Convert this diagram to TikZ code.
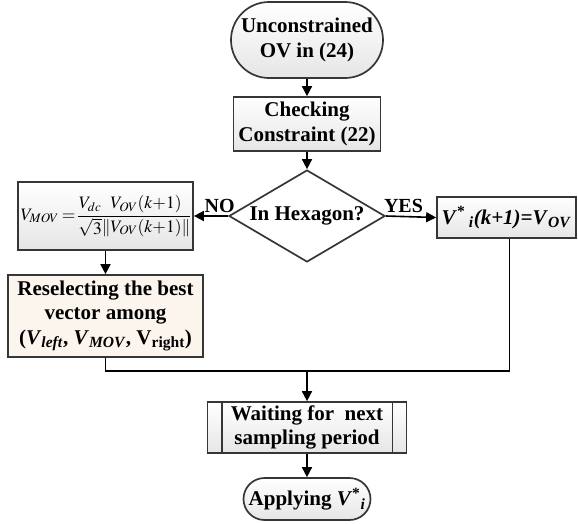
\documentclass[tikz,border=0pt]{standalone}
\usepackage{mathptmx}
\usepackage[no-math]{fontspec}
\setmainfont{Liberation Serif}
\usetikzlibrary{shapes.geometric,shapes.misc,arrows.meta,calc,positioning}

\definecolor{boxline}{HTML}{363636}
\definecolor{boxcream}{HTML}{FCF5EE}
\newcommand{\colx}{307}
\newcommand{\joiny}{371}

\tikzset{
  flowbox/.style={draw=boxline, line width=1.7pt, top color=white, bottom color=black!10,
    inner sep=0pt, align=center, font=\fontsize{21}{24.5}\selectfont\bfseries},
  termbox/.style={flowbox, rounded rectangle},
  decbox/.style={flowbox, diamond, aspect=1.7, top color=white, bottom color=white},
  flowarrow/.style={line width=1.6pt, -{Triangle[length=10pt,width=10pt]}},
  flowline/.style={line width=1.6pt},
  branchlabel/.style={font=\fontsize{20}{22}\selectfont\bfseries, inner sep=3pt}
}

\begin{document}
\begin{tikzpicture}[x=1pt,y=-1pt]
\useasboundingbox (0,0) rectangle (578,523);

%% Start terminal and the constraint check below it
\node[termbox, minimum width=152pt, minimum height=76pt] (start) at (\colx,40)
  {Unconstrained\\OV in (24)};
\node[flowbox, minimum width=147pt, minimum height=54pt] (check) at (\colx,124)
  {Checking\\Constraint (22)};

%% Decision: inside the hexagon or not
\node[decbox, minimum width=156pt, minimum height=92pt] (hex) at (\colx,216) {In Hexagon?};

%% NO branch: scale the vector back onto the boundary
\node[flowbox, minimum width=175pt, minimum height=68pt, font=\fontsize{17.5}{21}\selectfont] (mov) at (105.5,216)
  {$\displaystyle \nulldelimiterspace=0pt V_{MOV}\mkern3mu{=}\mkern3mu\frac{V_{dc}}{\sqrt{3}}\frac{V_{OV}(k{+}1)}{\|V_{OV}(k{+}1)\|}$};
\node[flowbox, top color=boxcream, bottom color=boxcream, minimum width=195pt, minimum height=82pt]
  (resel) at (105.5,316)
  {Reselecting the best\\vector among\\(\textit{V}\textsubscript{\textit{left}},
   \textit{V}\textsubscript{\textit{MOV}}, V\textsubscript{right})};

%% YES branch: keep the unconstrained vector
\node[flowbox, minimum width=139pt, minimum height=41pt] (vstar) at (506.5,217.5)
  {\textit{V}\textsuperscript{*}\,\textsubscript{\textit{i}}\textit{(k+1)=V}\textsubscript{\textit{OV}}};

%% Waiting block with the double side bars
\node[flowbox, minimum width=199pt, minimum height=51pt] (wait) at (\colx,427.5)
  {Waiting for~ next\\sampling period};
\draw[draw=boxline, line width=1.7pt] ($(wait.north west)+(15,0)$) -- ($(wait.south west)+(15,0)$);
\draw[draw=boxline, line width=1.7pt] ($(wait.north east)-(15,0)$) -- ($(wait.south east)-(15,0)$);

%% End terminal
\node[termbox, minimum width=127pt, minimum height=42pt] (apply) at (\colx,499)
  {Applying \textit{V}\textsuperscript{*}\textsubscript{\textit{i}}};

%% Main column arrows
\draw[flowarrow] (start.south) -- (check.north);
\draw[flowarrow] (check.south) -- (hex.north);

%% Branches out of the decision
\draw[flowarrow] (hex.west) -- node[branchlabel, above, pos=0.25] {NO} (mov.east);
\draw[flowarrow] (hex.east) -- node[branchlabel, above, pos=0.35] {YES} (vstar.west);
\draw[flowarrow] (mov.south) -- (resel.north);

%% Both branches meet again above the waiting block
\coordinate (join) at (\colx,\joiny);
\draw[flowline] (resel.south) |- (join) -| ($(vstar.south)+(3,0)$);
\draw[flowarrow] (join) -- (wait.north);
\draw[flowarrow] (wait.south) -- (apply.north);

\end{tikzpicture}
\end{document}
